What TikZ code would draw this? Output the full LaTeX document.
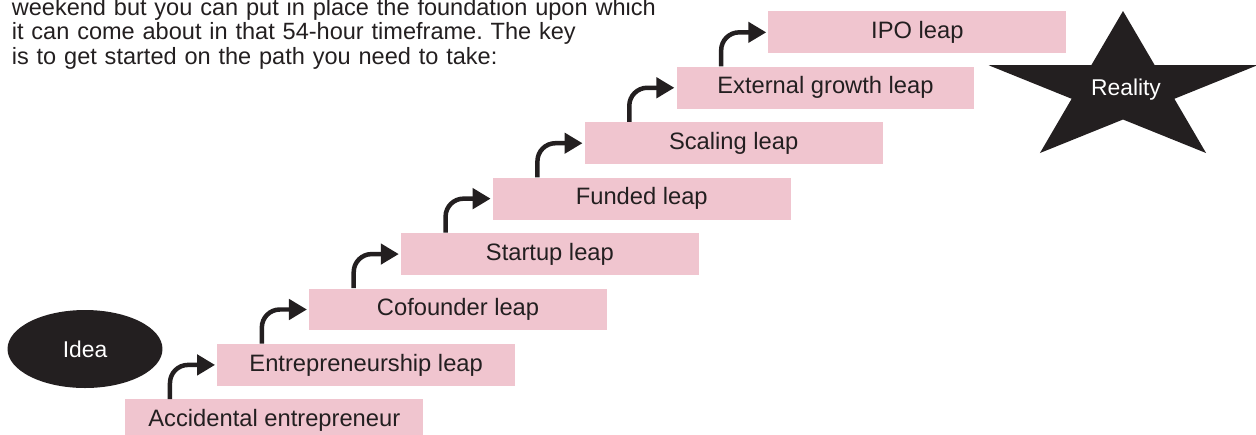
\documentclass[tikz,border=0pt]{standalone}
\usepackage{fontspec}
\setmainfont{Liberation Sans}
\usetikzlibrary{arrows.meta,shapes.geometric}

\definecolor{leappink}{RGB}{240,197,207}
\definecolor{ink}{RGB}{35,31,32}

\tikzset{
	leap/.style={fill=leappink, text=ink, minimum width=5.96cm, minimum height=0.84cm,
		inner sep=0pt, anchor=north west, font=\fontsize{13.5}{16}\selectfont},
	conn/.style={draw=ink, line width=0.09cm, rounded corners=0.36cm, shorten >=1pt,
		-{Triangle[length=0.36cm, width=0.4cm]}},
	blob/.style={fill=ink, text=white, font=\fontsize{13}{15}\selectfont}
}

\begin{document}
\frenchspacing
\begin{tikzpicture}[x=0.02cm, y=-0.02cm]
	\useasboundingbox (0,0) rectangle (1256,434);
	
	% Texto de arriba (cortado por el borde)
	\node[anchor=base west, inner sep=0pt, text width=15cm, align=left, text=ink,
		font=\fontsize{13.4}{14}\selectfont] (intro) at (11.5,15)
		{weekend but you can put in place the foundation upon which\\
		it can come about in that 54-hour timeframe. The key\\
		is to get started on the path you need to take:};
	
	% Escalones
	\foreach \lbl [count=\i from 0] in {Accidental entrepreneur, Entrepreneurship leap,
		Cofounder leap, Startup leap, Funded leap, Scaling leap,
		External growth leap, IPO leap}
		\node[leap] (b\i) at ({125+91.86*\i},{399-55.43*\i}) {\lbl};
	
	% Flechas entre escalones
	\foreach \i [evaluate=\i as \j using int(\i+1)] in {0,...,6}
		\draw[conn] ([xshift=0.9cm]b\i.north west) |- (b\j.west);
	
	% Idea y estrella
	\node[blob, ellipse, minimum width=3.1cm, minimum height=1.56cm, inner sep=0pt] (idea) at (85,349) {Idea};
	\fill[ink, shift={(1123,89.5)}, xscale=1.8]
		(-90:78.5) -- (-54:30) -- (-18:78.5) -- (18:30) -- (54:78.5) -- (90:30)
		-- (126:78.5) -- (162:30) -- (198:78.5) -- (234:30) -- cycle;
	\node[text=white, font=\fontsize{13}{15}\selectfont] (reality) at (1126,90) {Reality};
	
\end{tikzpicture}
\end{document}
